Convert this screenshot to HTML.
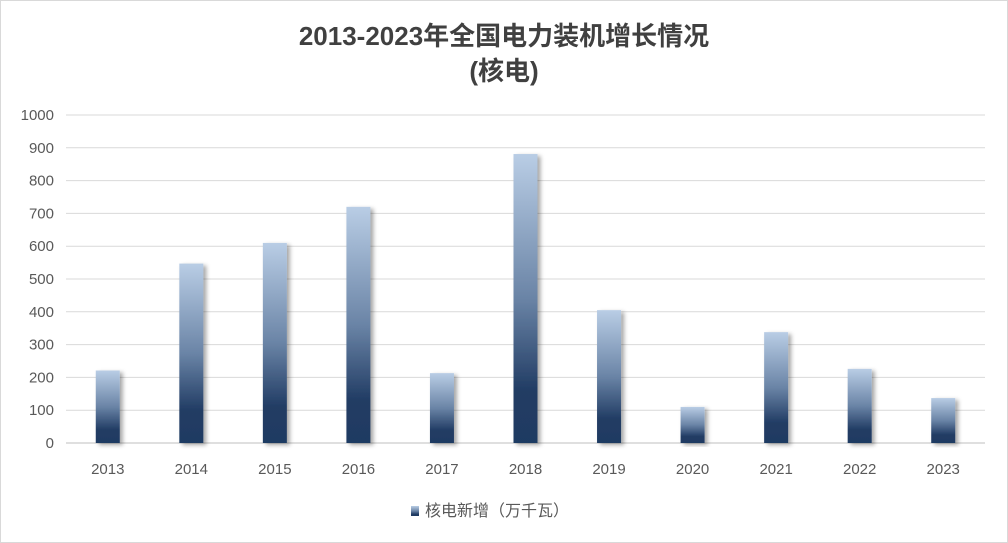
<!DOCTYPE html>
<html><head><meta charset="utf-8"><style>
body{margin:0;background:#fff;}
svg{display:block;font-family:"Liberation Sans","Noto Sans CJK SC",sans-serif;}
</style></head><body>
<svg id="chart" width="1008" height="543">
<defs>
<linearGradient id="g" x1="0" y1="0" x2="0" y2="1">
<stop offset="0" stop-color="#b9cde5"/><stop offset="0.5" stop-color="#6a84a6"/><stop offset="0.82" stop-color="#213c64"/><stop offset="1" stop-color="#1f3a62"/>
</linearGradient>
<filter id="sh" x="-20%" y="-5%" width="160%" height="115%"><feDropShadow dx="3" dy="2" stdDeviation="2" flood-color="#000" flood-opacity="0.35"/></filter>
</defs>
<rect x="0.5" y="0.5" width="1007" height="542" fill="#fff" stroke="#d9d9d9"/>
<text x="504" y="45" text-anchor="middle" font-size="26" font-weight="bold" fill="#404040">2013-2023年全国电力装机增长情况</text>
<text x="504" y="80" text-anchor="middle" font-size="26" font-weight="bold" fill="#404040">(核电)</text>
<g id="grid"></g><g id="bars"></g><g id="xl"></g>
<rect x="411" y="506" width="8" height="10" fill="url(#g)"/>
<text x="425" y="516" font-size="16" fill="#595959">核电新增（万千瓦）</text>
</svg>
<script>
const categories=["2013","2014","2015","2016","2017","2018","2019","2020","2021","2022","2023"];
const values=[221,547,610,720,213,881,405,110,338,226,137];
const yTicks=[0,100,200,300,400,500,600,700,800,900,1000];
const NS="http://www.w3.org/2000/svg";
const x0=66,x1=985,yb=443,yt=115,ymax=1000;
const y=v=>yb-(v/ymax)*(yb-yt);
const step=(x1-x0)/categories.length;
const xc=i=>x0+step*(i+0.5);
function mk(t,a,p){const e=document.createElementNS(NS,t);for(const k in a)e.setAttribute(k,a[k]);p.appendChild(e);return e;}
const grid=document.getElementById('grid'),bars=document.getElementById('bars'),xl=document.getElementById('xl');
yTicks.forEach(v=>{
const l=mk('line',{x1:x0,x2:x1,y1:y(v),y2:y(v),stroke:v===0?'#bfbfbf':'#d9d9d9','stroke-width':1},grid);


const t=mk('text',{x:54,y:y(v)+5,'text-anchor':'end','font-size':15,fill:'#595959'},grid);
t.textContent=v;


});
categories.forEach((c,i)=>{
const r=mk('rect',{x:xc(i)-12,y:y(values[i]),width:24,height:yb-y(values[i]),fill:'url(#g)',filter:'url(#sh)'},bars);


const t=mk('text',{x:xc(i),y:474,'text-anchor':'middle','font-size':15,fill:'#595959'},xl);
t.textContent=c;


});
</script>
</body></html>
